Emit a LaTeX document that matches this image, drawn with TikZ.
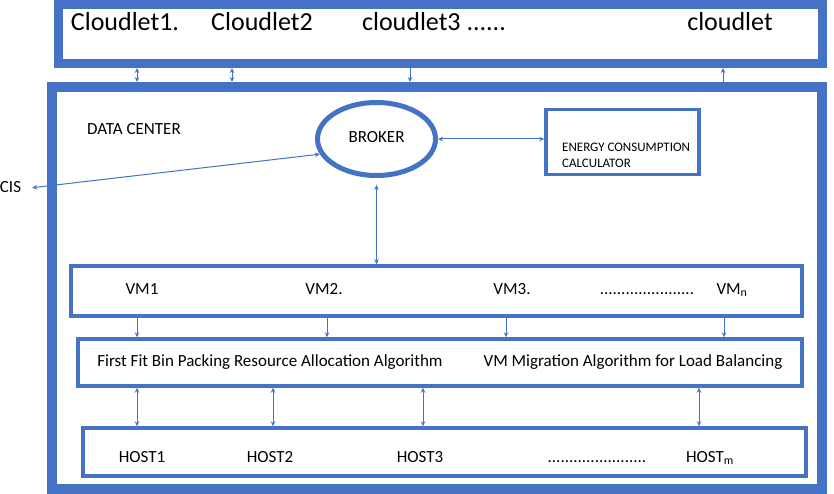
\documentclass[tikz,border=0pt]{standalone}
\usepackage{fontspec}
\setmainfont{Carlito}
\usetikzlibrary{shapes.geometric,arrows.meta}
\definecolor{dcblue}{HTML}{4472C4}
\tikzset{
  frame/.style={draw=dcblue, rectangle, inner sep=0pt},
  lbl/.style={inner sep=0pt, text height=0.64em, text depth=0pt, font=\fontsize{17}{20}\selectfont},
  big/.style={lbl, font=\fontsize{26}{30}\selectfont},
  link/.style={draw=dcblue, line width=1pt, >={Stealth[length=5pt,width=4.5pt]}},
}
\begin{document}
\begin{tikzpicture}[x=1pt, y=-1pt]
\useasboundingbox (0,0) rectangle (834,494);
\node[frame, line width=9pt, minimum width=764pt, minimum height=59pt] (cbox) at (440,34){};
\node[frame, line width=10pt, minimum width=770pt, minimum height=402pt] (dc) at (437,288){};
\node[big] (cl1) at (125,27){Cloudlet1.};
\node[big] (cl2) at (262,27){Cloudlet2};
\node[big] (cl3) at (434,27){cloudlet3 ......};
\node[big] (cln) at (730,27){cloudlet};
\node[lbl] (dclabel) at (134,131){DATA CENTER};
\node[draw=dcblue, ellipse, line width=5pt, inner sep=0pt, minimum width=118pt, minimum height=73pt, text height=0.64em, text depth=0pt, font=\fontsize{17}{20}\selectfont] (broker) at (376.5,139){BROKER};
\node[frame, line width=3.5pt, minimum width=153pt, minimum height=65pt] (energy) at (622.5,142){};
\node[inner sep=0pt, align=left, anchor=north west, font=\fontsize{13}{16}\selectfont] (entext) at (562,142.5){ENERGY CONSUMPTION\\CALCULATOR};
\node[lbl] (cis) at (10.5,189){CIS};
\node[frame, line width=3.5pt, minimum width=731pt, minimum height=50pt] (vms) at (436.5,291){};
\node[lbl] (vm1) at (142,291){VM1};
\node[lbl] (vm2) at (324,291){VM2.};
\node[lbl] (vm3) at (512,291){VM3.};
\node[lbl] (vmdots) at (647,291){......................};
\node[lbl] (vmn) at (732,291){VM\textsubscript{n}};
\node[frame, line width=3.5pt, minimum width=724pt, minimum height=47pt] (algo) at (440,362.5){};
\node[lbl] (ffbp) at (270,363){First Fit Bin Packing Resource Allocation Algorithm};
\node[lbl] (migr) at (633,363){VM Migration Algorithm for Load Balancing};
\node[frame, line width=3.5pt, minimum width=723pt, minimum height=48pt] (hosts) at (444.5,452){};
\node[lbl] (host1) at (142,459){HOST1};
\node[lbl] (host2) at (270,459){HOST2};
\node[lbl] (host3) at (420,459){HOST3};
\node[lbl] (hostdots) at (597,459){.......................};
\node[lbl] (hostm) at (710,459){HOST\textsubscript{m}};
\coordinate (t1) at (137,0);
\coordinate (t2) at (232,0);
\coordinate (t3) at (410,0);
\coordinate (t4) at (723,0);
\coordinate (v1) at (137,0);
\coordinate (v2) at (327,0);
\coordinate (v3) at (506,0);
\coordinate (v4) at (724,0);
\coordinate (h1) at (137,0);
\coordinate (h2) at (273,0);
\coordinate (h3) at (423,0);
\coordinate (h4) at (699,0);
\draw[link, <->] (t1 |- cbox.south) -- (t1 |- dc.north);
\draw[link, <->] (t2 |- cbox.south) -- (t2 |- dc.north);
\draw[link, ->] (t3 |- cbox.south) -- (t3 |- dc.north);
\draw[link, <-] (t4 |- cbox.south) -- (t4 |- dc.north);
\draw[link, <->, shorten <=11pt] (cis.east) -- (broker.195);
\draw[link, <->] (broker.east) -- (broker.east -| energy.west);
\draw[link, <->, shorten <=7pt] (broker.south) -- (broker.south |- vms.north);
\draw[link, ->] (v1 |- vms.south) -- (v1 |- algo.north);
\draw[link, ->] (v2 |- vms.south) -- (v2 |- algo.north);
\draw[link, ->] (v3 |- vms.south) -- (v3 |- algo.north);
\draw[link, ->] (v4 |- vms.south) -- (v4 |- algo.north);
\draw[link, <->] (h1 |- algo.south) -- (h1 |- hosts.north);
\draw[link, <->] (h2 |- algo.south) -- (h2 |- hosts.north);
\draw[link, <->] (h3 |- algo.south) -- (h3 |- hosts.north);
\draw[link, <->] (h4 |- algo.south) -- (h4 |- hosts.north);
\end{tikzpicture}
\end{document}
